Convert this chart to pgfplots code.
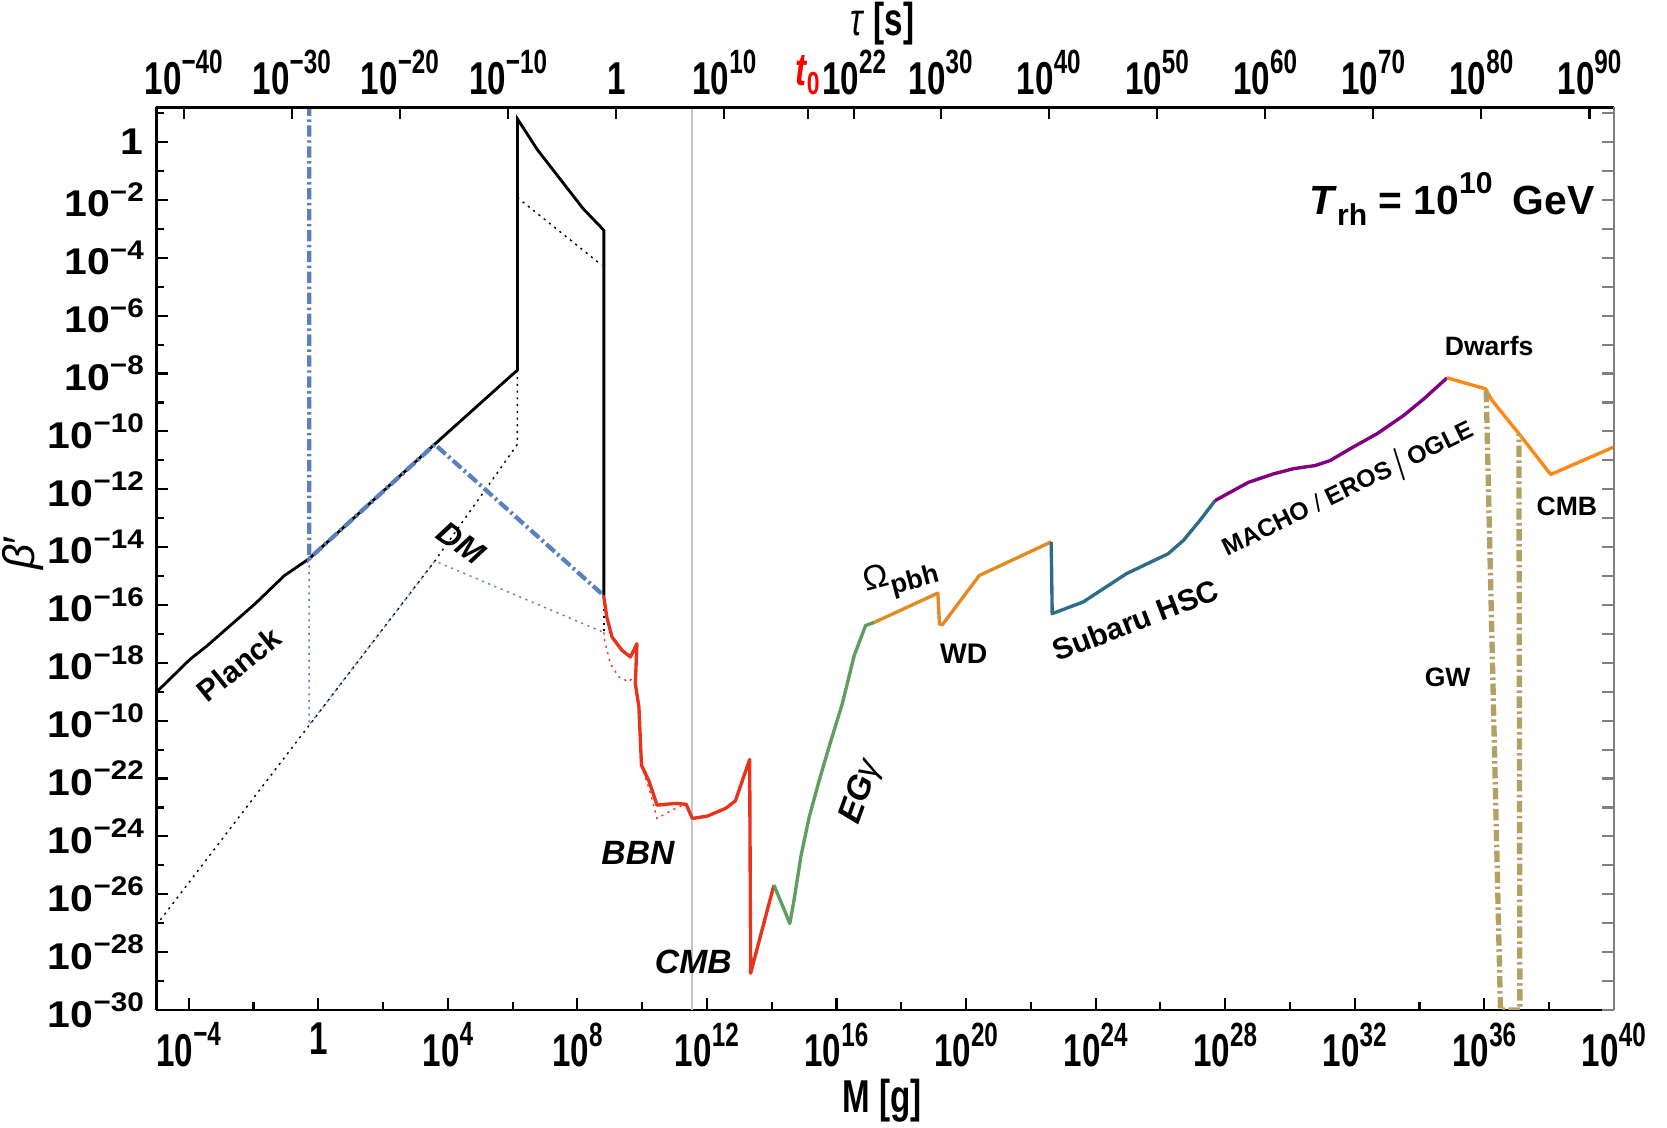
\documentclass[border=0pt]{standalone}
\usepackage{fontspec}
\usepackage{graphicx}
\usepackage{xcolor}
\usepackage{pgfplots}
\pgfplotsset{compat=1.18}
\setmainfont{Liberation Sans}
\newfontfamily\narrow[FakeStretch=0.72]{Liberation Sans}
\newfontfamily\wide[FakeStretch=1.1]{Liberation Sans}

\definecolor{cred}{RGB}{232,52,28}
\definecolor{cgreen}{RGB}{95,158,95}
\definecolor{corange}{RGB}{225,140,35}
\definecolor{corangeb}{RGB}{255,136,20}
\definecolor{cteal}{RGB}{45,108,138}
\definecolor{cpurple}{RGB}{128,0,128}
\definecolor{cblue}{RGB}{90,128,190}
\definecolor{ckhaki}{RGB}{178,160,100}

% powers of ten for the tick labels
\newcommand\xtl[1]{10\raisebox{0.45em}{\fontsize{9.5}{9.5}\selectfont #1}}
\newcommand\ytl[1]{10\raisebox{0.42em}{\fontsize{7.6}{8}\selectfont #1}}

\tikzset{
  dashdot/.style={dash pattern=on 3.2pt off 1pt on 0.7pt off 1pt},
  fine dots/.style={line width=0.4pt, dash pattern=on 0.6pt off 1.3pt},
}

\begin{document}
\begin{tikzpicture}
\useasboundingbox (-44.1pt,-33.3pt) rectangle (426.3pt,285pt);

% ---- main axis: M [g] versus beta' (log10 values) ----
\begin{axis}[
  at={(0pt,0pt)}, anchor=south west,
  width=411.3pt, height=254.7pt, scale only axis,
  xmin=-5, xmax=40, ymin=-30, ymax=1.2,
  axis x line*=bottom, axis y line*=left,
  axis line style={line width=0.7pt, black},
  tick align=inside,
  major tick length=3.4pt, minor tick length=2.3pt,
  tick style={black, line width=0.6pt},
  xtick={-4,0,...,40}, minor xtick={-2,2,...,38},
  xticklabels={\xtl{−4},1,\xtl{4},\xtl{8},\xtl{12},\xtl{16},\xtl{20},\xtl{24},\xtl{28},\xtl{32},\xtl{36},\xtl{40}},
  ytick={-30,-28,...,0}, minor ytick={-29,-27,...,1},
  yticklabels={\ytl{−30},\ytl{−28},\ytl{−26},\ytl{−24},\ytl{−22},\ytl{−10},\ytl{−18},\ytl{−16},\ytl{−14},\ytl{−12},\ytl{−10},\ytl{−8},\ytl{−6},\ytl{−4},\ytl{−2},1},
  xticklabel style={font=\narrow\bfseries\fontsize{13}{14}\selectfont},
  yticklabel style={font=\wide\bfseries\fontsize{10.5}{11}\selectfont},
]
% reference line
\addplot[gray!45, line width=0.5pt] coordinates {(11.55,-30) (11.55,1.2)};

% dotted companion bounds
\addplot[black, fine dots] coordinates {(-5,-27.07) (3.6,-14.48) (6.15,-10.45) (6.15,-7.88)};
\addplot[black, fine dots] coordinates {(6.15,-1.92) (8.75,-4.25)};
\addplot[black, fine dots] coordinates {(8.82,-15.68) (8.82,-16.95)};
\addplot[cblue, fine dots] coordinates {(-0.28,-14.40) (-0.28,-20.15) (3.6,-14.48) (8.82,-16.95)};
\addplot[cred, fine dots] coordinates {(8.82,-16.95) (8.84,-17.22) (9.02,-18.03) (9.28,-18.49) (9.59,-18.66) (9.76,-18.44)};
\addplot[cred, fine dots] coordinates {(9.98,-21.54) (10.26,-22.52) (10.46,-23.38) (11.03,-23.03) (11.36,-22.89)};

% Planck / inflation bound
\addplot[black, line width=0.8pt] coordinates {
  (-5,-19.02) (-3.96,-17.88) (-3.44,-17.42) (-1.94,-15.95) (-1.05,-14.99)
  (-0.28,-14.40) (3.55,-10.49) (6.15,-7.88) (6.15,0.80) (6.77,-0.27)
  (8.17,-2.29) (8.82,-3.05) (8.82,-15.68)};

% DM bound
\addplot[cblue, line width=1.2pt, dashdot] coordinates {(-0.28,1.3) (-0.28,-14.40) (3.6,-10.45) (8.82,-15.68)};

% BBN and CMB
\addplot[cred, line width=0.95pt, line join=round] coordinates {
  (8.81,-15.68) (8.91,-16.42) (9.07,-17.11) (9.38,-17.57) (9.64,-17.80)
  (9.84,-17.34) (9.79,-18.72) (9.90,-19.52) (9.98,-21.54) (10.22,-22.11)
  (10.46,-22.92) (11.03,-22.86) (11.36,-22.89) (11.55,-23.38) (12.01,-23.30)
  (12.58,-23.03) (12.88,-22.77) (13.32,-21.34) (13.35,-28.73) (14.07,-25.68)};

% extragalactic gamma rays
\addplot[cgreen, line width=0.95pt, line join=round] coordinates {
  (14.07,-25.68) (14.56,-27.01) (14.69,-26.20) (14.90,-24.70) (15.16,-23.32)
  (15.47,-22.05) (15.77,-20.91) (16.18,-19.41) (16.55,-17.74) (16.90,-16.71)
  (17.17,-16.60)};

% Omega_pbh and white dwarfs
\addplot[corange, line width=0.95pt, line join=round] coordinates {
  (17.17,-16.60) (19.13,-15.59) (19.18,-16.67) (19.28,-16.67) (20.41,-14.98) (22.63,-13.82)};

% Subaru HSC
\addplot[cteal, line width=0.95pt, line join=round] coordinates {
  (22.63,-13.82) (22.66,-16.30) (23.61,-15.90) (24.95,-14.92) (26.24,-14.23)
  (26.71,-13.77) (27.22,-13.08) (27.69,-12.39)};

% MACHO / EROS / OGLE
\addplot[cpurple, line width=0.95pt, line join=round] coordinates {
  (27.69,-12.39) (28.72,-11.76) (29.49,-11.47) (30.11,-11.29) (30.78,-11.18)
  (31.24,-11.01) (31.86,-10.60) (32.69,-10.08) (33.51,-9.45) (34.13,-8.88) (34.85,-8.15)};

% dwarfs and CMB accretion
\addplot[corangeb, line width=0.95pt, line join=round] coordinates {
  (34.85,-8.15) (36.04,-8.53) (36.24,-8.93) (37.07,-10.08) (38.05,-11.49) (40,-10.54)};

% gravitational waves
\addplot[ckhaki, line width=1.5pt, dashdot] coordinates {(36.06,-8.60) (36.5,-30) (37.1,-30) (37.07,-10.08)};

% curve labels
\node[rotate=39, font=\bfseries\fontsize{8.5}{9}\selectfont] at (axis cs:-2.45,-18.05) {Planck};
\node[rotate=-36, font=\bfseries\itshape\fontsize{9}{10}\selectfont] at (axis cs:4.41,-13.85) {DM};
\node[font=\bfseries\itshape\fontsize{9.5}{10}\selectfont] at (axis cs:9.87,-24.57) {BBN};
\node[font=\bfseries\itshape\fontsize{9.5}{10}\selectfont] at (axis cs:11.58,-28.35) {CMB};
\node[rotate=70, font=\bfseries\itshape\fontsize{9.5}{10}\selectfont] at (axis cs:16.78,-22.47) {EG{\mdseries γ}};
\node[rotate=15, font=\fontsize{9.5}{10}\selectfont] at (axis cs:17.99,-15.06) {Ω\raisebox{-0.3em}{\bfseries\fontsize{7.5}{8}\selectfont pbh}};
\node[font=\bfseries\fontsize{8}{9}\selectfont] at (axis cs:19.93,-17.70) {WD};
\node[rotate=21, font=\bfseries\fontsize{8.5}{9}\selectfont] at (axis cs:25.23,-16.53) {Subaru HSC};
\node[rotate=26, font=\bfseries\fontsize{7}{8}\selectfont] at (axis cs:31.81,-12.0) {MACHO {\mdseries/} EROS \raisebox{-0.35em}{\scalebox{1}[1.8]{\mdseries/}} OGLE};
\node[font=\bfseries\fontsize{7.5}{8}\selectfont] at (axis cs:36.15,-7.05) {Dwarfs};
\node[font=\bfseries\fontsize{7.5}{8}\selectfont] at (axis cs:38.55,-12.6) {CMB};
\node[font=\bfseries\fontsize{7.5}{8}\selectfont] at (axis cs:34.87,-18.51) {GW};
\node[font=\bfseries\fontsize{11.5}{12}\selectfont] at (axis cs:35.0,-1.98)
  {\textit{T}\raisebox{-0.28em}{\fontsize{8.5}{9}\selectfont rh} = 10\raisebox{0.5em}{\fontsize{8.5}{9}\selectfont 10}\enspace GeV};
\end{axis}

% ---- top axis: lifetime tau [s]; right spine ----
\begin{axis}[
  at={(0pt,0pt)}, anchor=south west,
  width=411.3pt, height=254.7pt, scale only axis,
  xmin=-5, xmax=40, ymin=-30, ymax=1.2,
  axis x line*=top, axis y line*=right,
  x axis line style={line width=0.7pt, black},
  y axis line style={line width=0.7pt, draw=gray},
  tick align=inside,
  major tick length=3.4pt,
  x tick style={black, line width=0.6pt},
  y tick style={gray, line width=0.6pt},
  xtick={-4.155,-0.816,2.522,5.861,9.2,12.539,15.11,16.545,19.216,22.555,25.894,29.233,32.572,35.91,39.249},
  xticklabels={\xtl{−40},\xtl{−30},\xtl{−20},\xtl{−10},1,\xtl{10},{\color{red}\itshape t\raisebox{-0.2em}{\fontsize{9}{9}\selectfont\upshape 0}},\xtl{22},\xtl{30},\xtl{40},\xtl{50},\xtl{60},\xtl{70},\xtl{80},\xtl{90}},
  ytick={-30,-29,...,1}, yticklabels={},
  xticklabel style={font=\narrow\bfseries\fontsize{13}{14}\selectfont},
]
\end{axis}

% axis titles
\node[font=\narrow\bfseries\fontsize{13}{14}\selectfont] at (204.9pt,-25.5pt) {M [g]};
\node[font=\narrow\fontsize{13}{14}\selectfont] at (204.9pt,278.4pt) {\textit{τ} \textbf{[s]}};
\node[rotate=90, font=\fontsize{12.5}{13}\selectfont] at (-37.5pt,129pt) {\textit{β}′};
\end{tikzpicture}
\end{document}
